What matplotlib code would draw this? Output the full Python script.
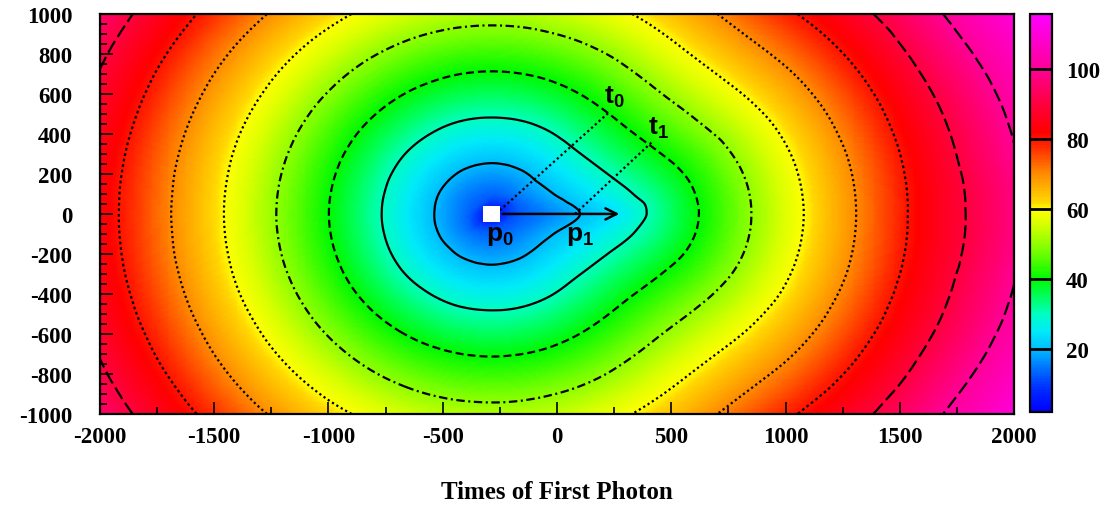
import numpy as np
import matplotlib
matplotlib.use("Agg")
import matplotlib.pyplot as plt
import matplotlib.tri as mtri
from matplotlib.colors import LinearSegmentedColormap, Normalize
from matplotlib.patches import Rectangle

x_pos = [-2000, -1700, -1400, -1100, -850, -650, -500, -400, -285, -170, -50,
         80, 200, 320, 450, 600, 800, 1050, 1300, 1650, 2000]
y_pos = [0, 100, 200, 300, 420, 560, 720, 860, 1000]

# time of first photon (ns), one row per y position
t_y0 = [83.6, 70.5, 57.5, 44.4, 33.6, 24.9, 18.4, 14.0, 6.0, 12.3, 15.7,
        19.4, 22.9, 26.9, 32.6, 39.1, 47.8, 58.7, 69.6, 84.8, 97.5]
t_y100 = [83.7, 70.7, 57.7, 44.7, 34.0, 25.5, 19.3, 15.6, 13.4, 15.6, 19.0,
          22.7, 26.1, 29.6, 33.8, 39.8, 48.2, 59.0, 69.8, 84.9, 97.7]
t_y200 = [84.1, 71.1, 58.3, 45.5, 35.1, 27.1, 21.8, 19.0, 17.7, 19.0, 22.3,
          26.0, 29.4, 32.8, 36.6, 41.6, 49.4, 59.8, 70.4, 85.4, 98.3]
t_y300 = [84.7, 71.9, 59.2, 46.8, 36.8, 29.5, 25.1, 23.0, 22.0, 23.0, 25.6,
          29.3, 32.7, 36.1, 39.8, 44.2, 51.3, 61.1, 71.4, 86.2, 99.5]
t_y420 = [85.8, 73.2, 60.8, 48.9, 39.6, 33.2, 29.5, 27.9, 27.3, 27.9, 29.9,
          33.2, 36.6, 40.1, 43.8, 48.1, 54.2, 63.3, 73.2, 87.5, 100.6]
t_y560 = [87.4, 75.2, 63.3, 52.0, 43.6, 38.1, 35.1, 33.9, 33.4, 33.9, 35.4,
          38.1, 41.2, 44.6, 48.4, 52.6, 58.4, 66.6, 75.8, 89.5, 102.2]
t_y720 = [89.9, 78.0, 66.7, 56.3, 48.8, 44.1, 41.7, 40.7, 40.3, 40.7, 41.9,
          44.1, 46.7, 49.9, 53.6, 57.9, 63.6, 71.0, 79.5, 92.5, 104.6]
t_y860 = [92.4, 81.0, 70.2, 60.5, 53.7, 49.6, 47.5, 46.7, 46.4, 46.7, 47.8,
          49.6, 51.9, 54.7, 58.2, 62.5, 68.2, 75.3, 83.2, 95.5, 107.2]
t_y1000 = [95.3, 84.3, 74.1, 65.1, 58.9, 55.3, 53.5, 52.8, 52.5, 52.8, 53.7,
           55.3, 57.3, 59.8, 63.0, 67.1, 72.8, 79.9, 87.3, 98.7, 110.2]

contour_levels = [20, 30, 40, 50, 60, 70, 80, 90, 100]
cbar_ticks = [20, 40, 60, 80, 100]
z_min, z_max = 2, 115.7

p0 = (-285, 0)
p1 = (79, 0)
arrow_tip = (285, 0)
t0_line = ([-250, 225], [18, 505])
t1_line = ([79, 418], [0, 362])

# ---- build the field
rows = [t_y0, t_y100, t_y200, t_y300, t_y420, t_y560, t_y720, t_y860, t_y1000]
full_y = [-y for y in y_pos[:0:-1]] + y_pos
full_rows = rows[:0:-1] + rows
Z = np.array(full_rows)
X, Y = np.meshgrid(x_pos, full_y)
nx, ny = len(x_pos), len(full_y)
tris = []
for j in range(ny - 1):
    for i in range(nx - 1):
        a = j * nx + i
        tris.append([a, a + 1, a + nx + 1])
        tris.append([a, a + nx + 1, a + nx])
tri = mtri.Triangulation(X.ravel(), Y.ravel(), np.array(tris))
interp = mtri.CubicTriInterpolator(tri, Z.ravel(), kind="geom")
tri_r, z_r = mtri.UniformTriRefiner(tri).refine_field(Z.ravel(), triinterpolator=interp, subdiv=4)

stops = [(2, "#0000ff"), (8, "#0028ff"), (14, "#006eff"), (20, "#00beff"),
         (25, "#00ebfa"), (30, "#00ffbe"), (35, "#00ff5a"), (40, "#00fa00"),
         (48, "#78ff00"), (56, "#dcff00"), (60, "#ffff00"), (62, "#ffd700"),
         (70, "#ff8c00"), (78, "#ff2800"), (82, "#ff0000"), (90, "#ff003c"),
         (100, "#ff0096"), (115.7, "#ff00ff")]
cmap = LinearSegmentedColormap.from_list(
    "root", [((v - z_min) / (z_max - z_min), c) for v, c in stops])
norm = Normalize(z_min, z_max)

fig = plt.figure(figsize=(11.11, 5.06), dpi=100)
ax = fig.add_axes([0.090, 0.180, 0.8227, 0.7905])
cax = fig.add_axes([0.9271, 0.1838, 0.0198, 0.7866])

mesh = ax.tripcolor(tri_r, z_r, shading="gouraud", cmap=cmap, norm=norm, rasterized=True)

styles = ["-", "-", (0, (3.6, 1.8)), (0, (3.8, 1.6, 0.9, 1.6)), (0, (1, 1.3)),
          (0, (1, 1.3)), (0, (1.2, 1.3)), (0, (6, 2.2)), (0, (6, 2.2))]
for lv, ls in zip(contour_levels, styles):
    cs = ax.tricontour(tri_r, z_r, levels=[lv], colors="k", linewidths=1.6)
    cs.set_linestyle(ls)

# track and annotations
ax.add_patch(Rectangle((p0[0] - 37, -40), 72, 80, facecolor="white", edgecolor="none", zorder=6))
ax.annotate("", xy=arrow_tip, xytext=(p0[0] + 35, 0),
            arrowprops=dict(arrowstyle="->", lw=1.8, color="k", mutation_scale=20), zorder=7)
ax.plot(*t0_line, color="k", lw=1.6, ls=(0, (1, 1.3)), zorder=5)
ax.plot(*t1_line, color="k", lw=1.6, ls=(0, (1, 1.3)), zorder=5)

plt.rcParams["mathtext.fontset"] = "custom"
plt.rcParams["mathtext.bf"] = "Liberation Sans:bold"
lab = dict(fontsize=19, color="k", zorder=8)
ax.text(-310, -35, r"$\mathbf{p}_\mathbf{0}$", ha="left", va="top", **lab)
ax.text(40, -35, r"$\mathbf{p}_\mathbf{1}$", ha="left", va="top", **lab)
ax.text(205, 525, r"$\mathbf{t}_\mathbf{0}$", ha="left", va="bottom", **lab)
ax.text(400, 370, r"$\mathbf{t}_\mathbf{1}$", ha="left", va="bottom", **lab)

ax.set_xlim(-2000, 2000)
ax.set_ylim(-1000, 1000)
ax.set_xticks(range(-2000, 2001, 500))
ax.set_xticks(range(-2000, 2001, 250), minor=True)
ax.set_yticks(range(-1000, 1001, 200))
ax.set_yticks(range(-1000, 1001, 50), minor=True)
tick_font = dict(family="Liberation Serif", weight="bold", size=16.5)
ax.set_xticklabels([str(v) for v in range(-2000, 2001, 500)], **tick_font)
ax.set_yticklabels([str(v) for v in range(-1000, 1001, 200)], **tick_font)
ax.tick_params(which="both", direction="in", top=False, right=False, width=1.2)
ax.tick_params(which="major", length=9)
ax.tick_params(which="minor", length=5)
ax.tick_params(axis="y", pad=20)
ax.tick_params(axis="x", pad=9)
for s in ax.spines.values():
    s.set_linewidth(1.6)

cb = fig.colorbar(mesh, cax=cax, ticks=cbar_ticks)
cb.ax.tick_params(length=0, pad=10)
cb.ax.set_yticklabels([str(v) for v in cbar_ticks], **tick_font)
for v in cbar_ticks:
    cb.ax.axhline(v, color="k", lw=2)
cb.outline.set_linewidth(1.6)

fig.text(0.501, 1 - 493 / 506, "Times of First Photon", ha="center", va="center",
         family="Liberation Serif", weight="bold", size=18)

fig.savefig("out.png", dpi=100)
